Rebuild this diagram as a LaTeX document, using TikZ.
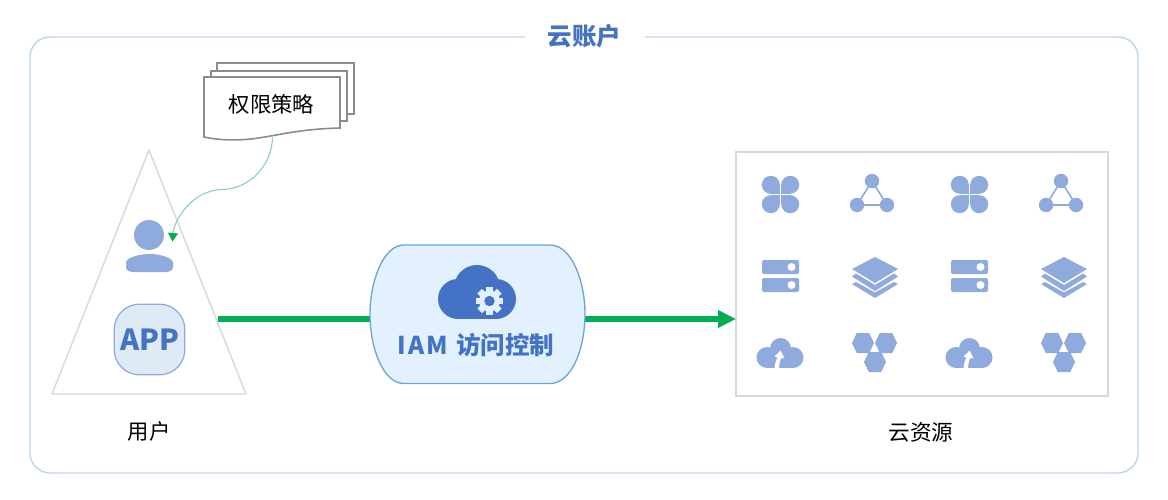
\documentclass[tikz,border=0pt]{standalone}
\usepackage{fontspec}
\setmainfont{Noto Sans CJK SC}
\usetikzlibrary{arrows.meta}
\definecolor{framecol}{HTML}{BDD7EE}
\definecolor{titlecol}{HTML}{4472C4}
\definecolor{iconcol}{HTML}{8FAADC}
\definecolor{flowcol}{HTML}{00B050}
\definecolor{thincol}{HTML}{7FD8A0}
\definecolor{iamfill}{HTML}{E3F1FE}
\definecolor{iamline}{HTML}{6CA5DB}
\definecolor{appfill}{HTML}{DEEAF6}
\definecolor{pagecol}{HTML}{8C8C8C}
\definecolor{greycol}{HTML}{D9D9D9}
\newcommand{\ptsize}[1]{\fontsize{#1}{#1}\selectfont}
\tikzset{
  x=0.75pt, y=-0.75pt,
  pagesheet/.style={draw=pagecol, line width=1.2pt, fill=white},
  flowline/.style={draw=flowcol, line width=4pt},
  clover/.pic={
    \foreach \sx/\sy in {-1/-1,1/-1,-1/1,1/1}{
      \fill[iconcol] (\sx*9.7,\sy*9.7) circle[radius=9];
      \fill[iconcol] (\sx*0.7,\sy*0.7) rectangle (\sx*9.7,\sy*9.7);
    }
  },
  trinet/.pic={
    \draw[iconcol, line width=1.2pt] (0,-11) -- (-15,13) -- (15,13) -- cycle;
    \fill[iconcol] (0,-11) circle[radius=7.2];
    \fill[iconcol] (-15,13) circle[radius=7.2];
    \fill[iconcol] (15,13) circle[radius=7.2];
  },
  serverpair/.pic={
    \fill[iconcol, rounded corners=1.5pt] (-18.5,-16) rectangle (18.5,-2);
    \fill[iconcol, rounded corners=1.5pt] (-18.5,2) rectangle (18.5,16);
    \fill[white] (11,-9) circle[radius=4];
    \fill[white] (11,9) circle[radius=4];
  },
  layerstack/.pic={
    \fill[iconcol] (0,-21) -- (23,-9) -- (0,5) -- (-23,-9) -- cycle;
    \fill[iconcol] (-23,-1.5) -- (-19,-4.5) -- (0,7) -- (19,-4.5) -- (23,-1.5) -- (0,13) -- cycle;
    \fill[iconcol] (-23,6) -- (-19,4) -- (0,14.5) -- (19,4) -- (23,6) -- (0,20) -- cycle;
  },
  upcloud/.pic={
    \fill[iconcol] (-13.5,4) circle[radius=10.5];
    \fill[iconcol] (0,-5) circle[radius=10.5];
    \fill[iconcol] (12.5,4) circle[radius=10.5];
    \fill[iconcol] (-13.5,0) rectangle (12.5,14.5);
    \fill[white] (-6,14.5) .. controls (-5.5,9) and (-4,6) .. (-3,4) -- (-6,3) -- (0,-3) -- (4,5) -- (1,4.5) .. controls (-0.5,7) and (-1.5,11) .. (-1.5,14.5) -- cycle;
  },
  hextrio/.pic={
    \foreach \cx/\cy in {-12/-9,11/-9,0/10}{
      \fill[iconcol] (\cx-11,\cy) -- (\cx-6.2,\cy-10) -- (\cx+6.2,\cy-10) -- (\cx+11,\cy) -- (\cx+6.2,\cy+10) -- (\cx-6.2,\cy+10) -- cycle;
    }
  },
}
\begin{document}
\begin{tikzpicture}
\useasboundingbox[fill=white] (0,0) rectangle (1168,500);

% account frame and its title
\draw[framecol, line width=1.1pt, rounded corners=15pt] (30,37) rectangle (1138,473);
\node[fill=white, text=titlecol, font=\ptsize{18.4}\bfseries, minimum width=90pt, minimum height=14pt, inner sep=0pt] (title) at (584.5,36) {云账户};

% stacked policy pages
\draw[pagesheet] (217,63) -- (354,63) -- (354,114) -- (340,114) -- (217,114) -- cycle;
\draw[pagesheet] (211,71) -- (347,71) -- (347,121) -- (211,121) -- cycle;
\draw[pagesheet] (204,77) -- (340,77) -- (340,128)
  .. controls (300,129) and (280,135) .. (255,138.5)
  .. controls (235,141) and (218,140) .. (204,137) -- cycle;
\node[font=\ptsize{16}, inner sep=0pt] (policy) at (271.5,104) {权限策略};
\coordinate (policyfoot) at (272.5,137.5);

% user triangle with person and app
\draw[greycol, line width=1.1pt] (149,150) -- (246,394) -- (52,394) -- cycle;
\fill[iconcol] (149,235) circle[radius=15];
\fill[iconcol] (126,262) .. controls (128,257) and (140,254) .. (149.5,254)
  .. controls (159,254) and (171,257) .. (173,262) -- (173,267)
  .. controls (173,270) and (170,272) .. (166,272) -- (133,272)
  .. controls (129,272) and (126,270) .. (126,267) -- cycle;
\node[draw=iconcol, fill=appfill, line width=0.9pt, rounded corners=19pt, minimum width=53pt, minimum height=53pt, inner sep=0pt, text=titlecol, font=\ptsize{21.75}\bfseries] (app) at (149.5,339.5) {APP};
\coordinate (userhead) at (172.5,241.5);
\node[font=\ptsize{16}, inner sep=0pt] (userlabel) at (149,431) {用户};

% thin curved link from the policy to the user
\draw[thincol, line width=0.8pt] (policyfoot)
  .. controls (272,165) and (250,189) .. (222,189.5)
  .. controls (195,190) and (176,215) .. (172.5,234);
\fill[flowcol] (userhead) -- (168,232.5) -- (178,233.5) -- cycle;

% access control capsule
\coordinate (iamin) at (370,319);
\coordinate (iamout) at (585,319);
\coordinate (flowstart) at (218,319);
\node[minimum width=279pt, minimum height=183pt, draw=greycol, line width=1.5pt, inner sep=0pt] (res) at (922,274) {};
\draw[flowline] (flowstart) -- (iamin);
\draw[flowline, shorten >=-0.8pt, -{Triangle[length=13.5pt,width=12.5pt]}] (iamout) -- (res.west |- iamout);
\draw[iamline, fill=iamfill, line width=1pt] (404,245) -- (550,245)
  .. controls (572,245) and (585,282) .. (585,314)
  .. controls (585,348) and (572,383.5) .. (550,383.5) -- (404,383.5)
  .. controls (383,383.5) and (370,348) .. (370,314)
  .. controls (370,282) and (383,245) .. (404,245) -- cycle;
\fill[titlecol] (458,299) circle[radius=20];
\fill[titlecol] (477,288) circle[radius=23];
\fill[titlecol] (496,299) circle[radius=20];
\fill[titlecol] (458,299) rectangle (496,319);
% gear on the cloud
\begin{scope}[shift={(489.5,301)}]
  \foreach \a in {0,45,...,315}{
    \fill[iamfill, rotate=\a] (-3.2,-13.8) rectangle (3.2,0);
  }
  \fill[iamfill] (0,0) circle[radius=10.5];
  \fill[titlecol] (0,0) circle[radius=5.2];
\end{scope}
\node[text=titlecol, font=\ptsize{18.4}\bfseries, inner sep=0pt] (iam) at (476,345) {I\kern1.5pt A\kern1.5pt M\kern2pt{} 访问控制};

% resource icon grid
\pic at (780.5,194.5) {clover};
\pic at (969.5,194.5) {clover};
\pic at (872,192) {trinet};
\pic at (1061,192) {trinet};
\pic at (780.5,276) {serverpair};
\pic at (969.5,276) {serverpair};
\pic at (875,278) {layerstack};
\pic at (1064,278) {layerstack};
\pic at (780.5,353.5) {upcloud};
\pic at (969.5,353.5) {upcloud};
\pic at (875,352) {hextrio};
\pic at (1064,352) {hextrio};
\node[font=\ptsize{16.2}, inner sep=0pt] (reslabel) at (921,432) {云资源};
\end{tikzpicture}
\end{document}
